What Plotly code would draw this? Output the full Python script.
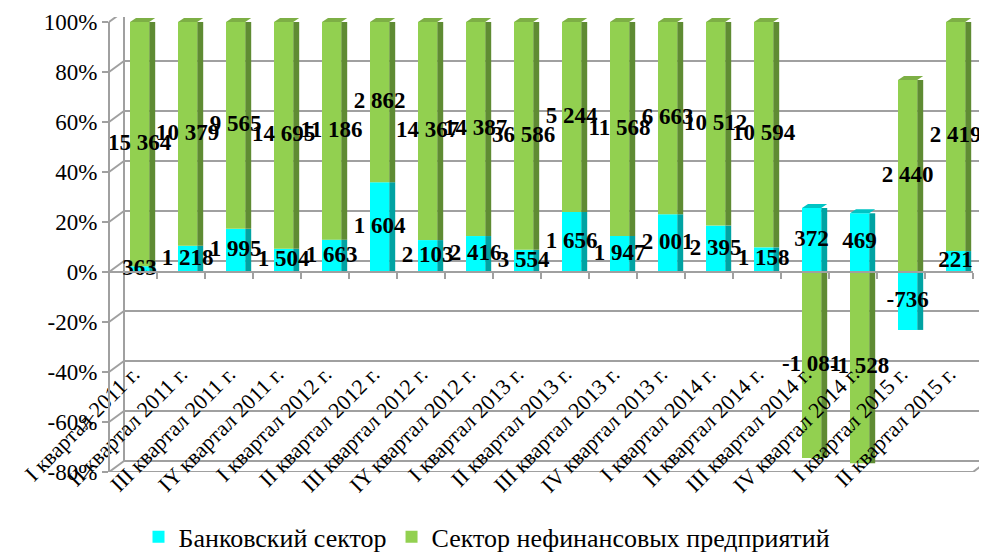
import numpy as np
import plotly.graph_objects as go

categories = ["I квартал 2011 г.", "II квартал 2011 г.", "III квартал 2011 г.", "IY квартал 2011 г.",
              "I квартал 2012 г.", "II квартал 2012 г.", "III квартал 2012 г.", "IY квартал 2012 г.",
              "I квартал 2013 г.", "II квартал 2013 г.", "III квартал 2013 г.", "IV квартал 2013 г.",
              "I квартал 2014 г.", "II квартал 2014 г.", "III квартал 2014 г.", "IV квартал 2014 г.",
              "I квартал 2015 г.", "II квартал 2015 г."]
bank = [363, 1218, 1995, 1504, 1663, 1604, 2103, 2416, 3554, 1656, 1947, 2001, 2395, 1158, 372, 469, -736, 221]
nonfin = [15364, 10379, 9565, 14695, 11186, 2862, 14367, 14387, 36586, 5244, 11568, 6663, 10512, 10594,
          -1081, -1528, 2440, 2419]
series_names = ["Банковский сектор", "Сектор нефинансовых предприятий"]
y_ticks = [-80, -60, -40, -20, 0, 20, 40, 60, 80, 100]
y_tick_text = [f"{v}%" for v in y_ticks]

FONT = "Liberation Serif"
W, H = 979, 546           # page body has an 8px margin
HEAD = 2                  # extra headroom (y units) so 3D top faces are not clipped
PPU = 2.5                 # pixels per y unit
ML, MR, MB = 101, 14, 82
MT = 14 - int(HEAD * PPU)
PW, PH = W - ML - MR, H - MT - MB
Y0, Y1 = y_ticks[0], y_ticks[-1] + HEAD
DX, DY = 15, 11          # 3D depth offset of back wall (px)
GRID = "#A0A0A0"

b = np.array(bank, float)
n = np.array(nonfin, float)
tot = np.abs(b) + np.abs(n)
pb = b / tot * 100
pn = n / tot * 100
base_b = np.zeros_like(pb)
base_n = np.where(np.sign(b) == np.sign(n), pb, 0.0)
xi = np.arange(len(categories))

FW, FO = 0.4, -0.0625     # front face width / offset
SW = 0.125                # side face width (x units)
TD = 1.6                  # top face depth (y units)

fig = go.Figure()
front_cols = ["#00FFFF", "#92D050"]
side_cols = ["#00A3A3", "#5F8B33"]
top_cols = ["#00C4C4", "#7DAF45"]
vals = [(pb, base_b), (pn, base_n)]
for k in range(2):
    h, bs = vals[k]
    fig.add_trace(go.Bar(x=xi, y=h, base=bs, width=SW, offset=FO + FW,
                         marker=dict(color=side_cols[k], line=dict(width=0)),
                         showlegend=False, hoverinfo="skip"))
for k in range(2):
    h, bs = vals[k]
    fig.add_trace(go.Bar(x=xi, y=h, base=bs, width=FW, offset=FO, name=series_names[k],
                         marker=dict(color=front_cols[k], line=dict(width=0))))

# top faces of the stacks (3D look)
top_val = np.maximum(pb, 0) + np.maximum(pn, 0)
top_is_green = pn > 0
for k, mask in enumerate([~top_is_green, top_is_green]):
    px, py = [], []
    for i in xi[mask]:
        t = top_val[i]
        x0 = i + FO
        px += [x0, x0 + FW, x0 + FW + SW, x0 + SW, x0, None]
        py += [t, t, t + TD, t + TD, t, None]
    fig.add_trace(go.Scatter(x=px, y=py, mode="lines", fill="toself", fillcolor=top_cols[k],
                             line=dict(width=0, color=top_cols[k]), showlegend=False,
                             hoverinfo="skip", cliponaxis=False))

raw = [bank, nonfin]
for k in range(2):
    h, bs = vals[k]
    labels = [f"{v:,}".replace(",", " ") for v in raw[k]]
    fig.add_trace(go.Scatter(x=xi + FO + FW / 2, y=bs + h / 2, mode="text", text=labels,
                             textfont=dict(family=FONT, size=23, color="black", weight="bold"),
                             showlegend=False, hoverinfo="skip", cliponaxis=False))
# invisible trace to activate second x axis (front 0% category line)
fig.add_trace(go.Scatter(x=[0], y=[0], xaxis="x2", mode="markers", marker=dict(opacity=0),
                         showlegend=False, hoverinfo="skip"))

shapes = []
for v in y_ticks:
    shapes.append(dict(type="line", xref="paper", yref="y", xsizemode="pixel", ysizemode="pixel",
                       xanchor=0, yanchor=v, x0=DX, x1=PW + DX, y0=DY, y1=DY,
                       line=dict(color=GRID, width=2), layer="below"))
    shapes.append(dict(type="line", xref="paper", yref="y", xsizemode="pixel", ysizemode="pixel",
                       xanchor=0, yanchor=v, x0=0, x1=DX, y0=0, y1=DY,
                       line=dict(color=GRID, width=2), layer="below"))
# back-left vertical edge
shapes.append(dict(type="line", xref="paper", yref="y", xsizemode="pixel",
                   xanchor=0, x0=DX, x1=DX, y0=y_ticks[0], y1=y_ticks[-1],
                   line=dict(color=GRID, width=2), layer="below"))
shapes[-1].update(ysizemode="pixel", yanchor=y_ticks[0], y0=DY,
                  y1=DY + (y_ticks[-1] - y_ticks[0]) * PPU)
# front-left vertical axis line
shapes.append(dict(type="line", xref="paper", yref="y", x0=0, x1=0, y0=y_ticks[0], y1=y_ticks[-1],
                   line=dict(color=GRID, width=2)))
# floor front edge and right diagonal
shapes.append(dict(type="line", xref="paper", yref="y", x0=0, x1=1, y0=y_ticks[0], y1=y_ticks[0],
                   line=dict(color=GRID, width=2), layer="below"))
shapes.append(dict(type="line", xref="paper", yref="y", xsizemode="pixel", ysizemode="pixel",
                   xanchor=1, yanchor=y_ticks[0], x0=0, x1=DX, y0=0, y1=DY,
                   line=dict(color=GRID, width=2), layer="below"))

zero_pos = (0 - Y0) / (Y1 - Y0)
lab_pos = 0.258 * 450 / PH
leg_y = -0.144 * 450 / PH

fig.update_layout(
    template="none",
    width=W, height=H,
    margin=dict(l=ML, r=MR, t=MT, b=MB, autoexpand=False),
    paper_bgcolor="white", plot_bgcolor="rgba(0,0,0,0)",
    barmode="overlay",
    font=dict(family=FONT, size=22, color="black"),
    shapes=shapes,
    showlegend=True,
    legend=dict(orientation="h", x=0.4375, xanchor="center", y=leg_y, yanchor="middle",
                itemwidth=30, font=dict(family=FONT, size=26, color="black"),
                bgcolor="rgba(0,0,0,0)"),
    xaxis=dict(range=[-0.5, len(categories) - 0.5], tickvals=list(xi), ticktext=categories,
               tickangle=-45, anchor="free", position=lab_pos, showline=False, ticks="",
               showgrid=False, zeroline=False, tickfont=dict(family=FONT, size=22, color="black"),
               automargin=False),
    xaxis2=dict(range=[-0.5, len(categories) - 0.5], overlaying="x", anchor="free",
                position=zero_pos, side="bottom",
                tickvals=list(xi + 0.5), showticklabels=False, ticks="outside", ticklen=6,
                tickcolor=GRID, tickwidth=2, showline=True, linecolor=GRID, linewidth=2,
                showgrid=False, zeroline=False, automargin=False),
    yaxis=dict(range=[Y0, Y1], tickmode="array", tickvals=y_ticks, ticktext=y_tick_text,
               showgrid=False, zeroline=False, showline=False,
               ticks="outside", ticklen=6, tickcolor=GRID, tickwidth=2,
               tickfont=dict(family=FONT, size=23, color="black"), automargin=False),
)

fig.write_html("out.html")
